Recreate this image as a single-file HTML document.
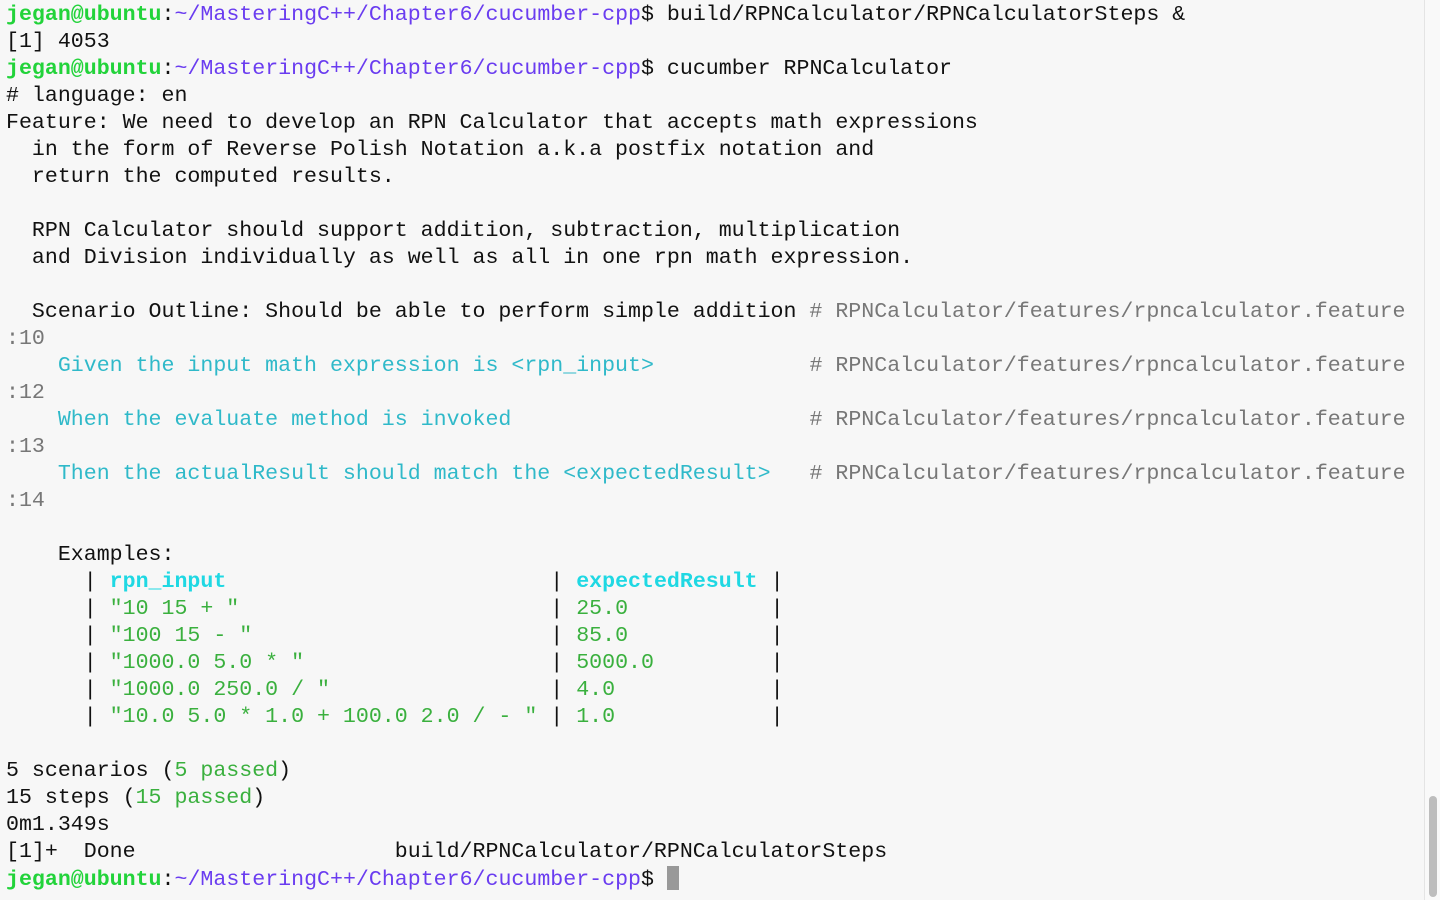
<!DOCTYPE html>
<html><head><meta charset="utf-8"><style>
html,body{margin:0;padding:0;background:#f7f7f7;width:1440px;height:900px;overflow:hidden}
pre{margin:0;position:absolute;left:6px;top:2px;font-family:"Liberation Mono",monospace;font-size:21.6px;line-height:27px;color:#111;white-space:pre}
.u{color:#22d33a;font-weight:bold}.p{color:#6a3cf0}.c{color:#2fb9c9}.g{color:#777}.h{color:#1fd8e3;font-weight:bold}.t{color:#3ab03e}
.sb{position:absolute;left:1424px;top:0;width:16px;height:900px;background:#f9f9f9;border-left:1px solid #e4e4e4}
.th{position:absolute;left:1429px;top:796px;width:8px;height:101px;border-radius:4px;background:#bdbdbd}
.cur{display:inline-block;width:12px;height:24px;background:#999;vertical-align:-5px}
</style></head><body>
<pre><span class="u">jegan@ubuntu</span>:<span class="p">~/MasteringC++/Chapter6/cucumber-cpp</span>$ build/RPNCalculator/RPNCalculatorSteps &amp;
[1] 4053
<span class="u">jegan@ubuntu</span>:<span class="p">~/MasteringC++/Chapter6/cucumber-cpp</span>$ cucumber RPNCalculator
# language: en
Feature: We need to develop an RPN Calculator that accepts math expressions
  in the form of Reverse Polish Notation a.k.a postfix notation and
  return the computed results.

  RPN Calculator should support addition, subtraction, multiplication
  and Division individually as well as all in one rpn math expression.

  Scenario Outline: Should be able to perform simple addition <span class="g"># RPNCalculator/features/rpncalculator.feature</span>
<span class="g">:10</span>
    <span class="c">Given the input math expression is &lt;rpn_input&gt;</span>            <span class="g"># RPNCalculator/features/rpncalculator.feature</span>
<span class="g">:12</span>
    <span class="c">When the evaluate method is invoked</span>                       <span class="g"># RPNCalculator/features/rpncalculator.feature</span>
<span class="g">:13</span>
    <span class="c">Then the actualResult should match the &lt;expectedResult&gt;</span>   <span class="g"># RPNCalculator/features/rpncalculator.feature</span>
<span class="g">:14</span>

    Examples:
      | <span class="h">rpn_input</span>                         | <span class="h">expectedResult</span> |
      | <span class="t">"10 15 + "</span>                        | <span class="t">25.0</span>           |
      | <span class="t">"100 15 - "</span>                       | <span class="t">85.0</span>           |
      | <span class="t">"1000.0 5.0 * "</span>                   | <span class="t">5000.0</span>         |
      | <span class="t">"1000.0 250.0 / "</span>                 | <span class="t">4.0</span>            |
      | <span class="t">"10.0 5.0 * 1.0 + 100.0 2.0 / - "</span> | <span class="t">1.0</span>            |

5 scenarios (<span class="t">5 passed</span>)
15 steps (<span class="t">15 passed</span>)
0m1.349s
[1]+  Done                    build/RPNCalculator/RPNCalculatorSteps
<span class="u">jegan@ubuntu</span>:<span class="p">~/MasteringC++/Chapter6/cucumber-cpp</span>$ <span class="cur"></span></pre>
<div class="sb"></div><div class="th"></div>
</body></html>
